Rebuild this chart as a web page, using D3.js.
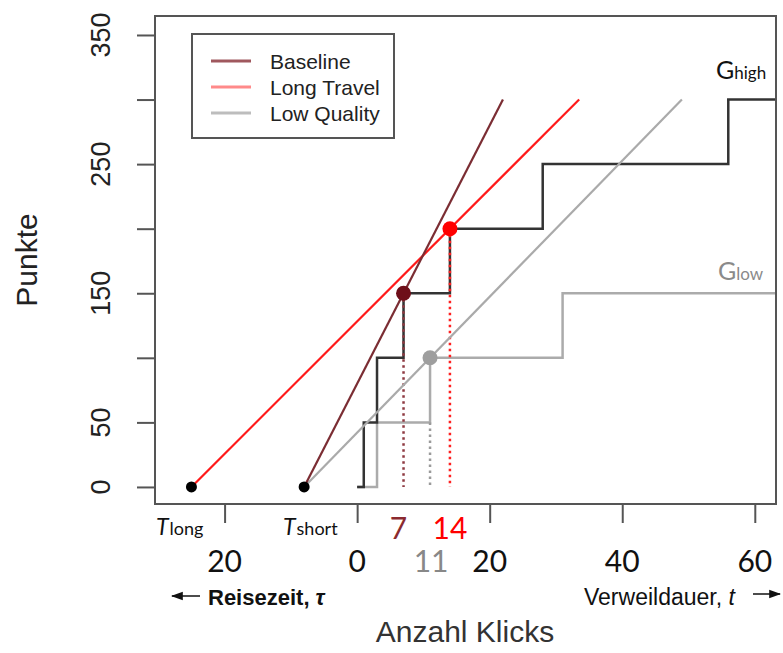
<!DOCTYPE html>
<html>
<head>
<meta charset="utf-8">
<script src="https://cdn.jsdelivr.net/npm/d3@7"></script>
<style>
  html, body { margin: 0; padding: 0; background: #fff; }
  svg { display: block; }
</style>
</head>
<body>
<svg id="chart" width="783" height="653"></svg>
<script>
// ---------------- data ----------------
const yTicks = [0, 50, 100, 150, 200, 250, 300, 350];
const yTickLabels = ["0", "50", "", "150", "", "250", "", "350"];
const xTicks = [-20, 0, 20, 40, 60];
const xTickLabels = ["20", "0", "20", "40", "60"];

// gain curves (step functions): clicks -> points
const gHighT = [0, 1, 3, 7, 14, 28, 56, 64];
const gHighV = [0, 50, 100, 150, 200, 250, 300, 300];
const gLowT = [0, 3, 11, 31, 64];
const gLowV = [0, 50, 100, 150, 150];

// tangent lines: start (travel time) and end
const seriesNames = ["Baseline", "Long Travel", "Low Quality"];
const lineStartT = [-8, -25, -8];
const lineEndT = [22, 33.5, 49];
const lineEndV = [300, 300, 300];

// optimal points
const optT = [7, 14, 11];
const optV = [150, 200, 100];
const optStepBase = [100, 150, 50];

// travel times
const travelT = [-25, -8];

// ---------------- layout ----------------
const svg = d3.select("#chart");
const L = 155, R = 776, T = 16, B = 504;
const x = d3.scaleLinear().domain([-30.5, 63.2]).range([L, R]);
const y = d3.scaleLinear().domain([-13.2, 364.7]).range([B, T]);

const lineColors = ["#7b2d33", "#ff1a1a", "#aaaaaa"];
const legendColors = ["#a0585e", "#ff8a8a", "#bdbdbd"];
const dotColors = ["#6e0f19", "#ff0000", "#9e9e9e"];
const dropColors = ["#8e3a42", "#ff2020", "#9a9a9a"];

svg.append("defs").append("clipPath").attr("id", "plotclip")
  .append("rect").attr("x", L).attr("y", T).attr("width", R - L).attr("height", B - T);

const plot = svg.append("g").attr("clip-path", "url(#plotclip)");

// step curves
const stepLine = d3.line().x(d => x(d[0])).y(d => y(d[1])).curve(d3.curveStepAfter);
plot.append("path")
  .datum(gLowT.map((t, i) => [t, gLowV[i]]))
  .attr("d", stepLine).attr("fill", "none")
  .attr("stroke", "#ababab").attr("stroke-width", 2.5);
plot.append("path")
  .datum(gHighT.map((t, i) => [t, gHighV[i]]))
  .attr("d", stepLine).attr("fill", "none")
  .attr("stroke", "#333333").attr("stroke-width", 2.5);

// dotted drop lines
optT.forEach((t, i) => {
  plot.append("line")
    .attr("x1", x(t)).attr("x2", x(t))
    .attr("y1", y(i === 2 ? optStepBase[i] : optV[i])).attr("y2", y(0))
    .attr("stroke", dropColors[i]).attr("stroke-width", 2.5)
    .attr("stroke-dasharray", "2.5,3.5");
});

// tangent lines
const straight = d3.line().x(d => x(d[0])).y(d => y(d[1]));
[2, 1, 0].forEach(i => {
  plot.append("path")
    .datum([[lineStartT[i], 0], [lineEndT[i], lineEndV[i]]])
    .attr("d", straight).attr("fill", "none")
    .attr("stroke", lineColors[i]).attr("stroke-width", 2.2);
});

// points
optT.forEach((t, i) => {
  plot.append("circle").attr("cx", x(t)).attr("cy", y(optV[i]))
    .attr("r", 7.5).attr("fill", dotColors[i]);
});
travelT.forEach(t => {
  plot.append("circle").attr("cx", x(t)).attr("cy", y(0))
    .attr("r", 5.5).attr("fill", "#000");
});

// box
svg.append("rect").attr("x", L).attr("y", T).attr("width", R - L).attr("height", B - T)
  .attr("fill", "none").attr("stroke", "#555").attr("stroke-width", 2);

// y axis
const yAxis = d3.axisLeft(y).tickValues(yTicks).tickSize(18).tickFormat("");
const gy = svg.append("g").attr("transform", `translate(${L},0)`).call(yAxis);
gy.select(".domain").attr("stroke", "#555").attr("stroke-width", 2)
  .attr("d", `M0,${y(350)}V${y(0)}`);
gy.selectAll(".tick line").attr("stroke", "#555").attr("stroke-width", 2);
yTicks.forEach((v, i) => {
  if (!yTickLabels[i]) return;
  svg.append("text")
    .attr("transform", `translate(110,${y(v)}) rotate(-90)`)
    .attr("text-anchor", "middle")
    .attr("font-family", "Liberation Sans, Arial, sans-serif")
    .attr("font-size", 27).attr("fill", "#222")
    .text(yTickLabels[i]);
});
svg.append("text")
  .attr("transform", `translate(37,${(T + B) / 2}) rotate(-90)`)
  .attr("text-anchor", "middle")
  .attr("font-family", "Liberation Sans, Arial, sans-serif")
  .attr("font-size", 30).attr("fill", "#222")
  .text("Punkte");

// x axis
const xAxis = d3.axisBottom(x).tickValues(xTicks).tickSize(19).tickFormat("");
const gx = svg.append("g").attr("transform", `translate(0,${B})`).call(xAxis);
gx.select(".domain").attr("stroke", "#555").attr("stroke-width", 2)
  .attr("d", `M${x(-20)},0H${x(60)}`);
gx.selectAll(".tick line").attr("stroke", "#555").attr("stroke-width", 2);
xTicks.forEach((v, i) => {
  svg.append("text")
    .attr("x", x(v)).attr("y", 572)
    .attr("text-anchor", "middle")
    .attr("font-family", "Lato, sans-serif")
    .attr("font-size", 30).attr("fill", "#111")
    .text(xTickLabels[i]);
});

// optimum click labels
const optLabelColors = ["#8b2a2f", "#ff0000", "#888888"];
const optLabelY = [539, 539, 572];
const optLabelDx = [-5, 0, 1];
optT.forEach((t, i) => {
  svg.append("text")
    .attr("x", x(t) + optLabelDx[i]).attr("y", optLabelY[i])
    .attr("text-anchor", "middle")
    .attr("font-family", "Lato, sans-serif")
    .attr("font-size", 30).attr("fill", optLabelColors[i])
    .text(String(t));
});

// T labels
function tLabel(xPos, sub) {
  const t = svg.append("text").attr("x", xPos).attr("y", 535)
    .attr("font-family", "Lato, sans-serif").attr("fill", "#111");
  t.append("tspan").attr("font-size", 23).attr("font-style", "italic").text("T");
  t.append("tspan").attr("font-size", 18).attr("dx", 1).text(sub);
}
tLabel(156, "long");
tLabel(283, "short");

// axis direction labels
const arrowFont = "Liberation Sans, Arial, sans-serif";
svg.append("defs").html(
  '<marker id="ah" viewBox="0 0 10 10" refX="9" refY="5" markerWidth="8" markerHeight="8" orient="auto-start-reverse">' +
  '<path d="M0,1.5 L10,5 L0,8.5 z" fill="#111"/></marker>');
svg.append("line").attr("x1", 200).attr("x2", 172).attr("y1", 596).attr("y2", 596)
  .attr("stroke", "#111").attr("stroke-width", 1.5).attr("marker-end", "url(#ah)");
const rt = svg.append("text").attr("x", 208).attr("y", 605)
  .attr("font-family", arrowFont).attr("font-size", 22).attr("font-weight", "bold").attr("fill", "#111");
rt.append("tspan").text("Reisezeit, ");
rt.append("tspan").attr("font-style", "italic").text("τ");

const vt = svg.append("text").attr("x", 584).attr("y", 605)
  .attr("font-family", arrowFont).attr("font-size", 23).attr("fill", "#111");
vt.append("tspan").text("Verweildauer, ");
vt.append("tspan").attr("font-style", "italic").text("t");
svg.append("line").attr("x1", 753).attr("x2", 780).attr("y1", 594).attr("y2", 594)
  .attr("stroke", "#111").attr("stroke-width", 1.5).attr("marker-end", "url(#ah)");

svg.append("text").attr("x", 465).attr("y", 642)
  .attr("text-anchor", "middle")
  .attr("font-family", "Liberation Sans, Arial, sans-serif")
  .attr("font-size", 30).attr("fill", "#333")
  .text("Anzahl Klicks");

// G labels
function gLabel(xPos, yPos, sub, color) {
  const t = svg.append("text").attr("x", xPos).attr("y", yPos)
    .attr("font-family", "Lato, sans-serif").attr("fill", color);
  t.append("tspan").attr("font-size", 25).text("G");
  t.append("tspan").attr("font-size", 17).text(sub);
}
gLabel(716, 79, "high", "#111");
gLabel(718, 280, "low", "#8a8a8a");

// legend
const lg = svg.append("g");
lg.append("rect").attr("x", 192).attr("y", 34).attr("width", 202).attr("height", 104)
  .attr("fill", "#fff").attr("stroke", "#555").attr("stroke-width", 2);
seriesNames.forEach((name, i) => {
  const yy = 61 + i * 26;
  lg.append("line").attr("x1", 211).attr("x2", 251).attr("y1", yy).attr("y2", yy)
    .attr("stroke", legendColors[i]).attr("stroke-width", 3);
  lg.append("text").attr("x", 270).attr("y", yy + 7.5)
    .attr("font-family", "Liberation Sans, Arial, sans-serif")
    .attr("font-size", 21).attr("fill", "#222").text(name);
});
</script>
</body>
</html>
